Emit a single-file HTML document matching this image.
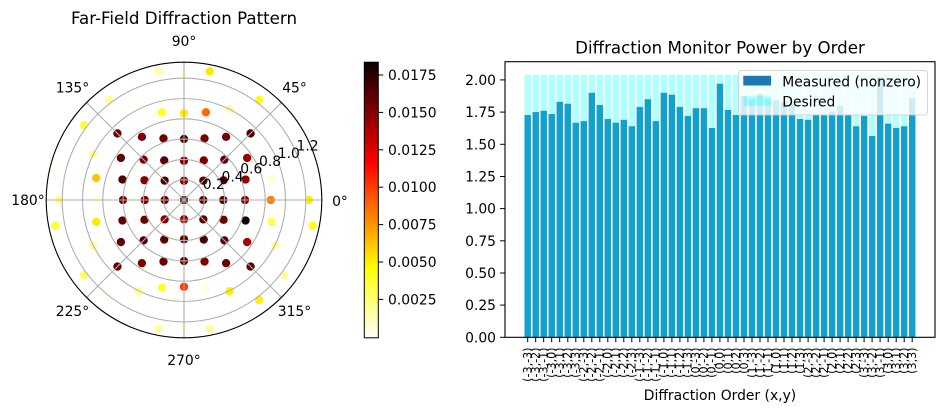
<!DOCTYPE html>
<html><head><meta charset="utf-8"><style>
html,body{margin:0;padding:0;background:#fff;}
svg{display:block;font-family:"DejaVu Sans","Liberation Sans",sans-serif;}
</style></head><body>
<svg width="943" height="411" viewBox="0 0 943 411" xmlns="http://www.w3.org/2000/svg">
<defs>
<linearGradient id="hot" x1="0" y1="0" x2="0" y2="1">
<stop offset="0" stop-color="#0b0000"/>
<stop offset="0.365" stop-color="#ff0000"/>
<stop offset="0.746" stop-color="#ffff00"/>
<stop offset="1" stop-color="#ffffff"/>
</linearGradient>
</defs>
<rect width="943" height="411" fill="#fff"/>

<!-- ================= POLAR ================= -->
<text x="184" y="24" font-size="16.67" text-anchor="middle" fill="#000">Far-Field Diffraction Pattern</text>

<g>
<!-- j=5 -->
<circle cx="158.26" cy="71.31" r="4.17" fill="#ffffa8"/>
<circle cx="184" cy="75" r="4.17" fill="#ffffdc"/>
<circle cx="209.74" cy="71.31" r="4.17" fill="#ffea00"/>
<!-- j=4 -->
<circle cx="109" cy="100" r="4.17" fill="#ffffa0"/>
<circle cx="138.44" cy="108.88" r="4.17" fill="#fffff0"/>
<circle cx="162.07" cy="112.28" r="4.17" fill="#ffff22"/>
<circle cx="184" cy="113.24" r="4.17" fill="#ffee00"/>
<circle cx="205.93" cy="112.28" r="4.17" fill="#ff6a00"/>
<circle cx="229.56" cy="108.88" r="4.17" fill="#ffffa0"/>
<circle cx="259" cy="100" r="4.17" fill="#ffff10"/>
<!-- j=3 -->
<circle cx="84" cy="125" r="4.17" fill="#ffff40"/>
<circle cx="117.43" cy="133.43" r="4.17" fill="#6a0000"/>
<circle cx="141.9" cy="136.86" r="4.17" fill="#800000"/>
<circle cx="163.49" cy="138.47" r="4.17" fill="#6a0000"/>
<circle cx="184" cy="138.96" r="4.17" fill="#500000"/>
<circle cx="204.51" cy="138.47" r="4.17" fill="#760000"/>
<circle cx="226.1" cy="136.86" r="4.17" fill="#780000"/>
<circle cx="250.57" cy="133.43" r="4.17" fill="#4a0000"/>
<circle cx="284" cy="125" r="4.17" fill="#fffff0"/>
<!-- j=2 -->
<circle cx="92.88" cy="154.44" r="4.17" fill="#ffff90"/>
<circle cx="120.86" cy="157.9" r="4.17" fill="#5a0000"/>
<circle cx="143.62" cy="159.62" r="4.17" fill="#800000"/>
<circle cx="164.24" cy="160.47" r="4.17" fill="#5a0000"/>
<circle cx="184" cy="160.74" r="4.17" fill="#7a0000"/>
<circle cx="203.76" cy="160.47" r="4.17" fill="#780000"/>
<circle cx="224.38" cy="159.62" r="4.17" fill="#620000"/>
<circle cx="247.14" cy="157.9" r="4.17" fill="#990000"/>
<circle cx="275.12" cy="154.44" r="4.17" fill="#fffff4"/>
<!-- j=1 -->
<circle cx="55.31" cy="174.26" r="4.17" fill="#fffff0"/>
<circle cx="96.28" cy="178.07" r="4.17" fill="#ffc400"/>
<circle cx="122.47" cy="179.49" r="4.17" fill="#4a0000"/>
<circle cx="144.47" cy="180.24" r="4.17" fill="#800000"/>
<circle cx="164.63" cy="180.63" r="4.17" fill="#550000"/>
<circle cx="184" cy="180.74" r="4.17" fill="#800000"/>
<circle cx="203.37" cy="180.63" r="4.17" fill="#5a0000"/>
<circle cx="223.53" cy="180.24" r="4.17" fill="#600000"/>
<circle cx="245.53" cy="179.49" r="4.17" fill="#990000"/>
<circle cx="271.72" cy="178.07" r="4.17" fill="#ffffd0"/>
<circle cx="312.69" cy="174.26" r="4.17" fill="#fffffa"/>
<!-- j=0 -->
<circle cx="59" cy="200" r="4.17" fill="#ffff80"/>
<circle cx="97.24" cy="200" r="4.17" fill="#ffffd8"/>
<circle cx="122.96" cy="200" r="4.17" fill="#6a0000"/>
<circle cx="144.74" cy="200" r="4.17" fill="#800000"/>
<circle cx="164.74" cy="200" r="4.17" fill="#6a0000"/>
<circle cx="184" cy="200" r="4.17" fill="#400000"/>
<circle cx="203.26" cy="200" r="4.17" fill="#5a0000"/>
<circle cx="223.26" cy="200" r="4.17" fill="#6a0000"/>
<circle cx="245.04" cy="200" r="4.17" fill="#800000"/>
<circle cx="270.76" cy="200" r="4.17" fill="#ff8000"/>
<circle cx="309" cy="200" r="4.17" fill="#ffee00"/>
<!-- j=-1 -->
<circle cx="55.31" cy="225.74" r="4.17" fill="#ffff30"/>
<circle cx="96.28" cy="221.93" r="4.17" fill="#ffea00"/>
<circle cx="122.47" cy="220.51" r="4.17" fill="#600000"/>
<circle cx="144.47" cy="219.76" r="4.17" fill="#6a0000"/>
<circle cx="164.63" cy="219.37" r="4.17" fill="#880000"/>
<circle cx="184" cy="219.26" r="4.17" fill="#aa0000"/>
<circle cx="203.37" cy="219.37" r="4.17" fill="#600000"/>
<circle cx="223.53" cy="219.76" r="4.17" fill="#6a0000"/>
<circle cx="245.53" cy="220.51" r="4.17" fill="#100000"/>
<circle cx="271.72" cy="221.93" r="4.17" fill="#ffff50"/>
<circle cx="312.69" cy="225.74" r="4.17" fill="#ffff20"/>
<!-- j=-2 -->
<circle cx="92.88" cy="245.56" r="4.17" fill="#ffff99"/>
<circle cx="120.86" cy="242.1" r="4.17" fill="#600000"/>
<circle cx="143.62" cy="240.38" r="4.17" fill="#4a0000"/>
<circle cx="164.24" cy="239.53" r="4.17" fill="#5a0000"/>
<circle cx="184" cy="239.26" r="4.17" fill="#6a0000"/>
<circle cx="203.76" cy="239.53" r="4.17" fill="#4a0000"/>
<circle cx="224.38" cy="240.38" r="4.17" fill="#5a0000"/>
<circle cx="247.14" cy="242.1" r="4.17" fill="#aa0000"/>
<circle cx="275.12" cy="245.56" r="4.17" fill="#ffffa0"/>
<!-- j=-3 -->
<circle cx="84" cy="275" r="4.17" fill="#ffff60"/>
<circle cx="117.43" cy="266.57" r="4.17" fill="#600000"/>
<circle cx="141.9" cy="263.14" r="4.17" fill="#800000"/>
<circle cx="163.49" cy="261.53" r="4.17" fill="#6a0000"/>
<circle cx="184" cy="261.04" r="4.17" fill="#660000"/>
<circle cx="204.51" cy="261.53" r="4.17" fill="#800000"/>
<circle cx="226.1" cy="263.14" r="4.17" fill="#6a0000"/>
<circle cx="250.57" cy="266.57" r="4.17" fill="#5a0000"/>
<circle cx="284" cy="275" r="4.17" fill="#ffffa0"/>
<!-- j=-4 -->
<circle cx="109" cy="300" r="4.17" fill="#fffff4"/>
<circle cx="138.44" cy="291.12" r="4.17" fill="#ffff99"/>
<circle cx="162.07" cy="287.72" r="4.17" fill="#ffff30"/>
<circle cx="184" cy="286.76" r="4.17" fill="#ff3c00"/>
<circle cx="205.93" cy="287.72" r="4.17" fill="#ffffe0"/>
<circle cx="229.56" cy="291.12" r="4.17" fill="#ffee00"/>
<circle cx="259" cy="300" r="4.17" fill="#ffee10"/>
<!-- j=-5 -->
<circle cx="158.26" cy="328.69" r="4.17" fill="#ffffa0"/>
<circle cx="184" cy="325" r="4.17" fill="#ffffe0"/>
<circle cx="209.74" cy="328.69" r="4.17" fill="#ffff99"/>
</g>

<!-- grid (drawn over points) -->
<g fill="none" stroke="#b0b0b0" stroke-width="1.1">
<circle cx="184" cy="200" r="20.3"/>
<circle cx="184" cy="200" r="40.6"/>
<circle cx="184" cy="200" r="60.9"/>
<circle cx="184" cy="200" r="81.2"/>
<circle cx="184" cy="200" r="101.5"/>
<circle cx="184" cy="200" r="121.8"/>
<line x1="184" y1="200" x2="321.8" y2="200"/>
<line x1="184" y1="200" x2="46.2" y2="200"/>
<line x1="184" y1="200" x2="184" y2="62.2"/>
<line x1="184" y1="200" x2="184" y2="337.8"/>
<line x1="184" y1="200" x2="281.44" y2="102.56"/>
<line x1="184" y1="200" x2="86.56" y2="102.56"/>
<line x1="184" y1="200" x2="86.56" y2="297.44"/>
<line x1="184" y1="200" x2="281.44" y2="297.44"/>
</g>
<circle cx="184" cy="200" r="137.8" fill="none" stroke="#000" stroke-width="1.1"/>

<!-- radial labels -->
<g font-size="13.89" fill="#000">
<text x="202.75" y="189.2">0.2</text>
<text x="221.5" y="181.5">0.4</text>
<text x="240.25" y="173.7">0.6</text>
<text x="259" y="165.9">0.8</text>
<text x="277.75" y="158.2">1.0</text>
<text x="296.5" y="150.4">1.2</text>
</g>
<!-- theta labels -->
<g font-size="13.89" fill="#000" text-anchor="middle">
<text x="340" y="206">0°</text>
<text x="294.5" y="92.5">45°</text>
<text x="184" y="46">90°</text>
<text x="72.5" y="92.5">135°</text>
<text x="28" y="205">180°</text>
<text x="72.5" y="316">225°</text>
<text x="184" y="365">270°</text>
<text x="294.5" y="316">315°</text>
</g>

<!-- colorbar -->
<rect x="364.3" y="62.2" width="14" height="275.6" fill="url(#hot)" stroke="#000" stroke-width="1"/>
<g stroke="#000" stroke-width="1">
<line x1="378.3" y1="75" x2="383.2" y2="75"/>
<line x1="378.3" y1="112.4" x2="383.2" y2="112.4"/>
<line x1="378.3" y1="149.8" x2="383.2" y2="149.8"/>
<line x1="378.3" y1="187.2" x2="383.2" y2="187.2"/>
<line x1="378.3" y1="224.6" x2="383.2" y2="224.6"/>
<line x1="378.3" y1="262" x2="383.2" y2="262"/>
<line x1="378.3" y1="299.4" x2="383.2" y2="299.4"/>
</g>
<g font-size="13.89" fill="#000">
<text x="388" y="80">0.0175</text>
<text x="388" y="117.4">0.0150</text>
<text x="388" y="154.8">0.0125</text>
<text x="388" y="192.2">0.0100</text>
<text x="388" y="229.6">0.0075</text>
<text x="388" y="267">0.0050</text>
<text x="388" y="304.4">0.0025</text>
</g>

<!-- ================= BAR CHART ================= -->
<text x="720" y="53.4" font-size="16.67" text-anchor="middle" fill="#000">Diffraction Monitor Power by Order</text>

<!-- measured bars -->
<g fill="#1f77b4">
<rect x="524.5" y="115.04" width="6.41" height="222.26"/>
<rect x="532.51" y="112.07" width="6.41" height="225.23"/>
<rect x="540.52" y="110.79" width="6.41" height="226.51"/>
<rect x="548.53" y="114.01" width="6.41" height="223.29"/>
<rect x="556.54" y="101.78" width="6.41" height="235.52"/>
<rect x="564.55" y="103.71" width="6.41" height="233.59"/>
<rect x="572.56" y="122.76" width="6.41" height="214.54"/>
<rect x="580.57" y="121.08" width="6.41" height="216.22"/>
<rect x="588.58" y="92.77" width="6.41" height="244.53"/>
<rect x="596.59" y="105.0" width="6.41" height="232.3"/>
<rect x="604.6" y="119.02" width="6.41" height="218.28"/>
<rect x="612.61" y="122.76" width="6.41" height="214.54"/>
<rect x="620.62" y="119.8" width="6.41" height="217.5"/>
<rect x="628.63" y="126.23" width="6.41" height="211.07"/>
<rect x="636.64" y="106.93" width="6.41" height="230.37"/>
<rect x="644.65" y="99.2" width="6.41" height="238.1"/>
<rect x="652.66" y="121.08" width="6.41" height="216.22"/>
<rect x="660.67" y="92.77" width="6.41" height="244.53"/>
<rect x="668.68" y="94.7" width="6.41" height="242.6"/>
<rect x="676.69" y="106.93" width="6.41" height="230.37"/>
<rect x="684.7" y="115.94" width="6.41" height="221.36"/>
<rect x="692.71" y="108.21" width="6.41" height="229.09"/>
<rect x="700.72" y="108.21" width="6.41" height="229.09"/>
<rect x="708.73" y="128.03" width="6.41" height="209.27"/>
<rect x="716.74" y="83.76" width="6.41" height="253.54"/>
<rect x="724.75" y="109.89" width="6.41" height="227.41"/>
<rect x="732.76" y="115.04" width="6.41" height="222.26"/>
<rect x="740.77" y="96.25" width="6.41" height="241.05"/>
<rect x="748.78" y="99.2" width="6.41" height="238.1"/>
<rect x="756.79" y="94.06" width="6.41" height="243.24"/>
<rect x="764.8" y="99.2" width="6.41" height="238.1"/>
<rect x="772.81" y="100.49" width="6.41" height="236.81"/>
<rect x="780.82" y="101.78" width="6.41" height="235.52"/>
<rect x="788.83" y="104.35" width="6.41" height="232.95"/>
<rect x="796.84" y="119.02" width="6.41" height="218.28"/>
<rect x="804.85" y="119.8" width="6.41" height="217.5"/>
<rect x="812.86" y="114.65" width="6.41" height="222.65"/>
<rect x="820.87" y="114.65" width="6.41" height="222.65"/>
<rect x="828.88" y="112.07" width="6.41" height="225.23"/>
<rect x="836.89" y="105.64" width="6.41" height="231.66"/>
<rect x="844.9" y="114.65" width="6.41" height="222.65"/>
<rect x="852.91" y="126.23" width="6.41" height="211.07"/>
<rect x="860.92" y="115.94" width="6.41" height="221.36"/>
<rect x="868.93" y="136.01" width="6.41" height="201.29"/>
<rect x="876.94" y="77.33" width="6.41" height="259.97"/>
<rect x="884.95" y="123.66" width="6.41" height="213.64"/>
<rect x="892.96" y="128.03" width="6.41" height="209.27"/>
<rect x="900.97" y="126.23" width="6.41" height="211.07"/>
<rect x="908.98" y="97.92" width="6.41" height="239.38"/>
</g>
<!-- desired bars (cyan, alpha .3) -->
<g fill="#00ffff" fill-opacity="0.3">
<rect x="524.5" y="74.75" width="6.41" height="262.55"/>
<rect x="532.51" y="74.75" width="6.41" height="262.55"/>
<rect x="540.52" y="74.75" width="6.41" height="262.55"/>
<rect x="548.53" y="74.75" width="6.41" height="262.55"/>
<rect x="556.54" y="74.75" width="6.41" height="262.55"/>
<rect x="564.55" y="74.75" width="6.41" height="262.55"/>
<rect x="572.56" y="74.75" width="6.41" height="262.55"/>
<rect x="580.57" y="74.75" width="6.41" height="262.55"/>
<rect x="588.58" y="74.75" width="6.41" height="262.55"/>
<rect x="596.59" y="74.75" width="6.41" height="262.55"/>
<rect x="604.6" y="74.75" width="6.41" height="262.55"/>
<rect x="612.61" y="74.75" width="6.41" height="262.55"/>
<rect x="620.62" y="74.75" width="6.41" height="262.55"/>
<rect x="628.63" y="74.75" width="6.41" height="262.55"/>
<rect x="636.64" y="74.75" width="6.41" height="262.55"/>
<rect x="644.65" y="74.75" width="6.41" height="262.55"/>
<rect x="652.66" y="74.75" width="6.41" height="262.55"/>
<rect x="660.67" y="74.75" width="6.41" height="262.55"/>
<rect x="668.68" y="74.75" width="6.41" height="262.55"/>
<rect x="676.69" y="74.75" width="6.41" height="262.55"/>
<rect x="684.7" y="74.75" width="6.41" height="262.55"/>
<rect x="692.71" y="74.75" width="6.41" height="262.55"/>
<rect x="700.72" y="74.75" width="6.41" height="262.55"/>
<rect x="708.73" y="74.75" width="6.41" height="262.55"/>
<rect x="716.74" y="74.75" width="6.41" height="262.55"/>
<rect x="724.75" y="74.75" width="6.41" height="262.55"/>
<rect x="732.76" y="74.75" width="6.41" height="262.55"/>
<rect x="740.77" y="74.75" width="6.41" height="262.55"/>
<rect x="748.78" y="74.75" width="6.41" height="262.55"/>
<rect x="756.79" y="74.75" width="6.41" height="262.55"/>
<rect x="764.8" y="74.75" width="6.41" height="262.55"/>
<rect x="772.81" y="74.75" width="6.41" height="262.55"/>
<rect x="780.82" y="74.75" width="6.41" height="262.55"/>
<rect x="788.83" y="74.75" width="6.41" height="262.55"/>
<rect x="796.84" y="74.75" width="6.41" height="262.55"/>
<rect x="804.85" y="74.75" width="6.41" height="262.55"/>
<rect x="812.86" y="74.75" width="6.41" height="262.55"/>
<rect x="820.87" y="74.75" width="6.41" height="262.55"/>
<rect x="828.88" y="74.75" width="6.41" height="262.55"/>
<rect x="836.89" y="74.75" width="6.41" height="262.55"/>
<rect x="844.9" y="74.75" width="6.41" height="262.55"/>
<rect x="852.91" y="74.75" width="6.41" height="262.55"/>
<rect x="860.92" y="74.75" width="6.41" height="262.55"/>
<rect x="868.93" y="74.75" width="6.41" height="262.55"/>
<rect x="876.94" y="74.75" width="6.41" height="262.55"/>
<rect x="884.95" y="74.75" width="6.41" height="262.55"/>
<rect x="892.96" y="74.75" width="6.41" height="262.55"/>
<rect x="900.97" y="74.75" width="6.41" height="262.55"/>
<rect x="908.98" y="74.75" width="6.41" height="262.55"/>
</g>

<!-- axes frame -->
<rect x="505" y="61.7" width="430" height="275.6" fill="none" stroke="#000" stroke-width="1.1"/>

<!-- y ticks -->
<g stroke="#000" stroke-width="1">
<line x1="500.1" y1="337.3" x2="505" y2="337.3"/>
<line x1="500.1" y1="305.1" x2="505" y2="305.1"/>
<line x1="500.1" y1="273" x2="505" y2="273"/>
<line x1="500.1" y1="240.8" x2="505" y2="240.8"/>
<line x1="500.1" y1="208.6" x2="505" y2="208.6"/>
<line x1="500.1" y1="176.5" x2="505" y2="176.5"/>
<line x1="500.1" y1="144.3" x2="505" y2="144.3"/>
<line x1="500.1" y1="112.1" x2="505" y2="112.1"/>
<line x1="500.1" y1="79.9" x2="505" y2="79.9"/>
</g>
<g font-size="13.89" fill="#000" text-anchor="end">
<text x="496" y="342.3">0.00</text>
<text x="496" y="310.1">0.25</text>
<text x="496" y="278">0.50</text>
<text x="496" y="245.8">0.75</text>
<text x="496" y="213.6">1.00</text>
<text x="496" y="181.5">1.25</text>
<text x="496" y="149.3">1.50</text>
<text x="496" y="117.1">1.75</text>
<text x="496" y="84.9">2.00</text>
</g>

<!-- x ticks -->
<g stroke="#000" stroke-width="1">
<line x1="527.7" y1="337.3" x2="527.7" y2="342.2"/><line x1="535.7" y1="337.3" x2="535.7" y2="342.2"/><line x1="543.7" y1="337.3" x2="543.7" y2="342.2"/><line x1="551.7" y1="337.3" x2="551.7" y2="342.2"/><line x1="559.7" y1="337.3" x2="559.7" y2="342.2"/><line x1="567.8" y1="337.3" x2="567.8" y2="342.2"/><line x1="575.8" y1="337.3" x2="575.8" y2="342.2"/>
<line x1="583.8" y1="337.3" x2="583.8" y2="342.2"/><line x1="591.8" y1="337.3" x2="591.8" y2="342.2"/><line x1="599.8" y1="337.3" x2="599.8" y2="342.2"/><line x1="607.8" y1="337.3" x2="607.8" y2="342.2"/><line x1="615.8" y1="337.3" x2="615.8" y2="342.2"/><line x1="623.8" y1="337.3" x2="623.8" y2="342.2"/><line x1="631.8" y1="337.3" x2="631.8" y2="342.2"/>
<line x1="639.8" y1="337.3" x2="639.8" y2="342.2"/><line x1="647.9" y1="337.3" x2="647.9" y2="342.2"/><line x1="655.9" y1="337.3" x2="655.9" y2="342.2"/><line x1="663.9" y1="337.3" x2="663.9" y2="342.2"/><line x1="671.9" y1="337.3" x2="671.9" y2="342.2"/><line x1="679.9" y1="337.3" x2="679.9" y2="342.2"/><line x1="687.9" y1="337.3" x2="687.9" y2="342.2"/>
<line x1="695.9" y1="337.3" x2="695.9" y2="342.2"/><line x1="703.9" y1="337.3" x2="703.9" y2="342.2"/><line x1="711.9" y1="337.3" x2="711.9" y2="342.2"/><line x1="719.9" y1="337.3" x2="719.9" y2="342.2"/><line x1="728" y1="337.3" x2="728" y2="342.2"/><line x1="736" y1="337.3" x2="736" y2="342.2"/><line x1="744" y1="337.3" x2="744" y2="342.2"/>
<line x1="752" y1="337.3" x2="752" y2="342.2"/><line x1="760" y1="337.3" x2="760" y2="342.2"/><line x1="768" y1="337.3" x2="768" y2="342.2"/><line x1="776" y1="337.3" x2="776" y2="342.2"/><line x1="784" y1="337.3" x2="784" y2="342.2"/><line x1="792" y1="337.3" x2="792" y2="342.2"/><line x1="800" y1="337.3" x2="800" y2="342.2"/>
<line x1="808.1" y1="337.3" x2="808.1" y2="342.2"/><line x1="816.1" y1="337.3" x2="816.1" y2="342.2"/><line x1="824.1" y1="337.3" x2="824.1" y2="342.2"/><line x1="832.1" y1="337.3" x2="832.1" y2="342.2"/><line x1="840.1" y1="337.3" x2="840.1" y2="342.2"/><line x1="848.1" y1="337.3" x2="848.1" y2="342.2"/><line x1="856.1" y1="337.3" x2="856.1" y2="342.2"/>
<line x1="864.1" y1="337.3" x2="864.1" y2="342.2"/><line x1="872.1" y1="337.3" x2="872.1" y2="342.2"/><line x1="880.1" y1="337.3" x2="880.1" y2="342.2"/><line x1="888.2" y1="337.3" x2="888.2" y2="342.2"/><line x1="896.2" y1="337.3" x2="896.2" y2="342.2"/><line x1="904.2" y1="337.3" x2="904.2" y2="342.2"/><line x1="912.2" y1="337.3" x2="912.2" y2="342.2"/>
</g>

<!-- x tick labels (rotated) -->
<g font-size="11.1" fill="#000" text-anchor="end">
<text transform="translate(531.5,347.5) rotate(-90)">(-3,-3)</text>
<text transform="translate(539.5,347.5) rotate(-90)">(-3,-2)</text>
<text transform="translate(547.5,347.5) rotate(-90)">(-3,-1)</text>
<text transform="translate(555.5,347.5) rotate(-90)">(-3,0)</text>
<text transform="translate(563.5,347.5) rotate(-90)">(-3,1)</text>
<text transform="translate(571.6,347.5) rotate(-90)">(-3,2)</text>
<text transform="translate(579.6,347.5) rotate(-90)">(-3,3)</text>
<text transform="translate(587.6,347.5) rotate(-90)">(-2,-3)</text>
<text transform="translate(595.6,347.5) rotate(-90)">(-2,-2)</text>
<text transform="translate(603.6,347.5) rotate(-90)">(-2,-1)</text>
<text transform="translate(611.6,347.5) rotate(-90)">(-2,0)</text>
<text transform="translate(619.6,347.5) rotate(-90)">(-2,1)</text>
<text transform="translate(627.6,347.5) rotate(-90)">(-2,2)</text>
<text transform="translate(635.6,347.5) rotate(-90)">(-2,3)</text>
<text transform="translate(643.6,347.5) rotate(-90)">(-1,-3)</text>
<text transform="translate(651.7,347.5) rotate(-90)">(-1,-2)</text>
<text transform="translate(659.7,347.5) rotate(-90)">(-1,-1)</text>
<text transform="translate(667.7,347.5) rotate(-90)">(-1,0)</text>
<text transform="translate(675.7,347.5) rotate(-90)">(-1,1)</text>
<text transform="translate(683.7,347.5) rotate(-90)">(-1,2)</text>
<text transform="translate(691.7,347.5) rotate(-90)">(-1,3)</text>
<text transform="translate(699.7,347.5) rotate(-90)">(0,-3)</text>
<text transform="translate(707.7,347.5) rotate(-90)">(0,-2)</text>
<text transform="translate(715.7,347.5) rotate(-90)">(0,-1)</text>
<text transform="translate(723.7,347.5) rotate(-90)">(0,0)</text>
<text transform="translate(731.8,347.5) rotate(-90)">(0,1)</text>
<text transform="translate(739.8,347.5) rotate(-90)">(0,2)</text>
<text transform="translate(747.8,347.5) rotate(-90)">(0,3)</text>
<text transform="translate(755.8,347.5) rotate(-90)">(1,-3)</text>
<text transform="translate(763.8,347.5) rotate(-90)">(1,-2)</text>
<text transform="translate(771.8,347.5) rotate(-90)">(1,-1)</text>
<text transform="translate(779.8,347.5) rotate(-90)">(1,0)</text>
<text transform="translate(787.8,347.5) rotate(-90)">(1,1)</text>
<text transform="translate(795.8,347.5) rotate(-90)">(1,2)</text>
<text transform="translate(803.8,347.5) rotate(-90)">(1,3)</text>
<text transform="translate(811.9,347.5) rotate(-90)">(2,-3)</text>
<text transform="translate(819.9,347.5) rotate(-90)">(2,-2)</text>
<text transform="translate(827.9,347.5) rotate(-90)">(2,-1)</text>
<text transform="translate(835.9,347.5) rotate(-90)">(2,0)</text>
<text transform="translate(843.9,347.5) rotate(-90)">(2,1)</text>
<text transform="translate(851.9,347.5) rotate(-90)">(2,2)</text>
<text transform="translate(859.9,347.5) rotate(-90)">(2,3)</text>
<text transform="translate(867.9,347.5) rotate(-90)">(3,-3)</text>
<text transform="translate(875.9,347.5) rotate(-90)">(3,-2)</text>
<text transform="translate(883.9,347.5) rotate(-90)">(3,-1)</text>
<text transform="translate(892,347.5) rotate(-90)">(3,0)</text>
<text transform="translate(900,347.5) rotate(-90)">(3,1)</text>
<text transform="translate(908,347.5) rotate(-90)">(3,2)</text>
<text transform="translate(916,347.5) rotate(-90)">(3,3)</text>
</g>

<text x="720" y="400" font-size="13.89" text-anchor="middle" fill="#000">Diffraction Order (x,y)</text>

<!-- legend -->
<rect x="738.5" y="70.5" width="189" height="44.5" rx="2.8" ry="2.8" fill="#ffffff" fill-opacity="0.8" stroke="#cccccc" stroke-opacity="0.8" stroke-width="1"/>
<rect x="743.3" y="75.8" width="27.8" height="9.7" fill="#1f77b4"/>
<rect x="743.3" y="96.3" width="27.8" height="9.7" fill="#00ffff" fill-opacity="0.3"/>
<text x="782.3" y="86.5" font-size="13.89" fill="#000">Measured (nonzero)</text>
<text x="782.3" y="106.5" font-size="13.89" fill="#000">Desired</text>
</svg>
</body></html>
